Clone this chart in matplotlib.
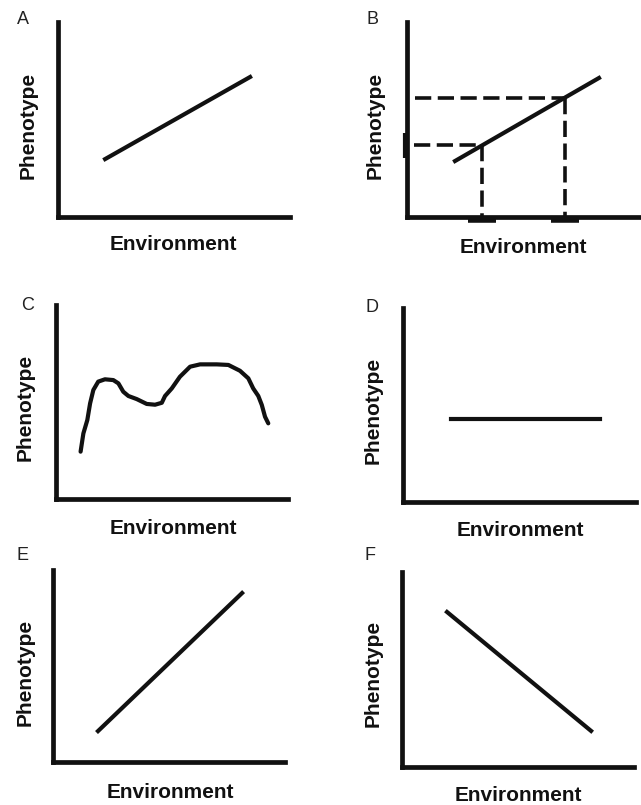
import matplotlib.pyplot as plt

plt.rcParams['font.family'] = ['Liberation Sans', 'DejaVu Sans']

# data (axes run 0-100 on both sides)
a_x = [20.3, 82.8]
a_y = [29.7, 71.8]

b_x = [20.6, 82.4]
b_y = [28.7, 71.3]
b_env = [32.2, 67.8]
b_phen = [37.0, 61.0]       # phenotype where they hit the line
b_start = [3.0, 3.5]        # where the dashed guides start at the y axis

c_x = [10.6, 11.8, 13.5, 14.7, 16.1, 18.2, 21.1, 24.7, 26.9, 29.0, 31.2, 34.8,
       39.1, 42.7, 45.6, 47.0, 49.9, 53.4, 57.8, 62.1, 69.3, 74.3, 79.3, 82.9,
       85.0, 87.2, 88.7, 90.1, 91.5]
c_y = [24.4, 33.8, 40.7, 49.3, 56.2, 60.5, 61.7, 61.3, 59.6, 55.3, 53.1, 51.5,
       49.0, 48.6, 49.6, 53.1, 57.0, 63.0, 68.2, 69.4, 69.4, 69.1, 66.1, 62.2,
       57.0, 53.1, 48.5, 42.4, 39.0]

d_x = [20.6, 84.5]
d_y = [42.8, 42.8]

e_x = [19.4, 81.5]
e_y = [16.1, 88.0]

f_x = [19.4, 81.5]
f_y = [79.5, 18.5]

letters = ['A', 'B', 'C', 'D', 'E', 'F']
xlabel = 'Environment'
ylabel = 'Phenotype'

W, H = 641, 805
# axes boxes in pixels: left, top, right, bottom
boxes = [(58, 22, 290, 217), (407, 22, 640, 217),
         (56, 305, 288, 499), (403, 308, 636, 502),
         (53, 570, 285, 762), (402, 572, 634, 767)]
letter_pos = [(23, 20), (372, 20), (28, 305), (372, 307), (23, 555), (370, 555)]
ylab_pos = [(28, 125), (375, 125), (25, 407), (373, 410), (25, 672), (373, 673)]
xlab_pos = [(173, 245), (523, 247), (173, 528), (520, 530), (170, 792), (518, 795)]

ink = '#111111'
fig = plt.figure(figsize=(W / 100, H / 100), dpi=100)

axes = []
for i, (l, t, r, b) in enumerate(boxes):
    ax = fig.add_axes([l / W, 1 - b / H, (r - l) / W, (b - t) / H])
    ax.set_xlim(0, 100)
    ax.set_ylim(0, 100)
    ax.set_xticks([])
    ax.set_yticks([])
    for s in ['top', 'right']:
        ax.spines[s].set_visible(False)
    for s in ['left', 'bottom']:
        ax.spines[s].set_linewidth(3.4)
        ax.spines[s].set_color(ink)
        ax.spines[s].set_capstyle('projecting')
    ax.patch.set_alpha(0)
    axes.append(ax)

    fig.text(letter_pos[i][0] / W, 1 - letter_pos[i][1] / H, letters[i],
             fontsize=13, color='#222222', ha='center', va='center')
    fig.text(ylab_pos[i][0] / W, 1 - ylab_pos[i][1] / H, ylabel, rotation=90,
             fontsize=15, fontweight='bold', color=ink, ha='center', va='center')
    fig.text(xlab_pos[i][0] / W, 1 - xlab_pos[i][1] / H, xlabel,
             fontsize=15, fontweight='bold', color=ink, ha='center', va='center')

lw = 3.0
axes[0].plot(a_x, a_y, color=ink, lw=lw)

ax = axes[1]
ax.plot(b_x, b_y, color=ink, lw=lw)
for xe, yp, x0 in zip(b_env, b_phen, b_start):
    ax.plot([x0, xe], [yp, yp], color=ink, lw=2.6, dashes=(4.5, 1.8), clip_on=False)
    ax.plot([xe, xe], [yp, -1], color=ink, lw=2.6, dashes=(4.5, 1.8), clip_on=False)
ax.plot(b_env, [-1.5, -1.5], ls='none', marker='_', ms=20, mew=4, color=ink, clip_on=False)
ax.plot([-1], [b_phen[0]], ls='none', marker='|', ms=18, mew=3, color=ink, clip_on=False)

axes[2].plot(c_x, c_y, color=ink, lw=lw, solid_joinstyle='round', solid_capstyle='round')
axes[3].plot(d_x, d_y, color=ink, lw=lw)
axes[4].plot(e_x, e_y, color=ink, lw=lw)
axes[5].plot(f_x, f_y, color=ink, lw=lw)

fig.savefig('out.png', dpi=100, facecolor='white')
